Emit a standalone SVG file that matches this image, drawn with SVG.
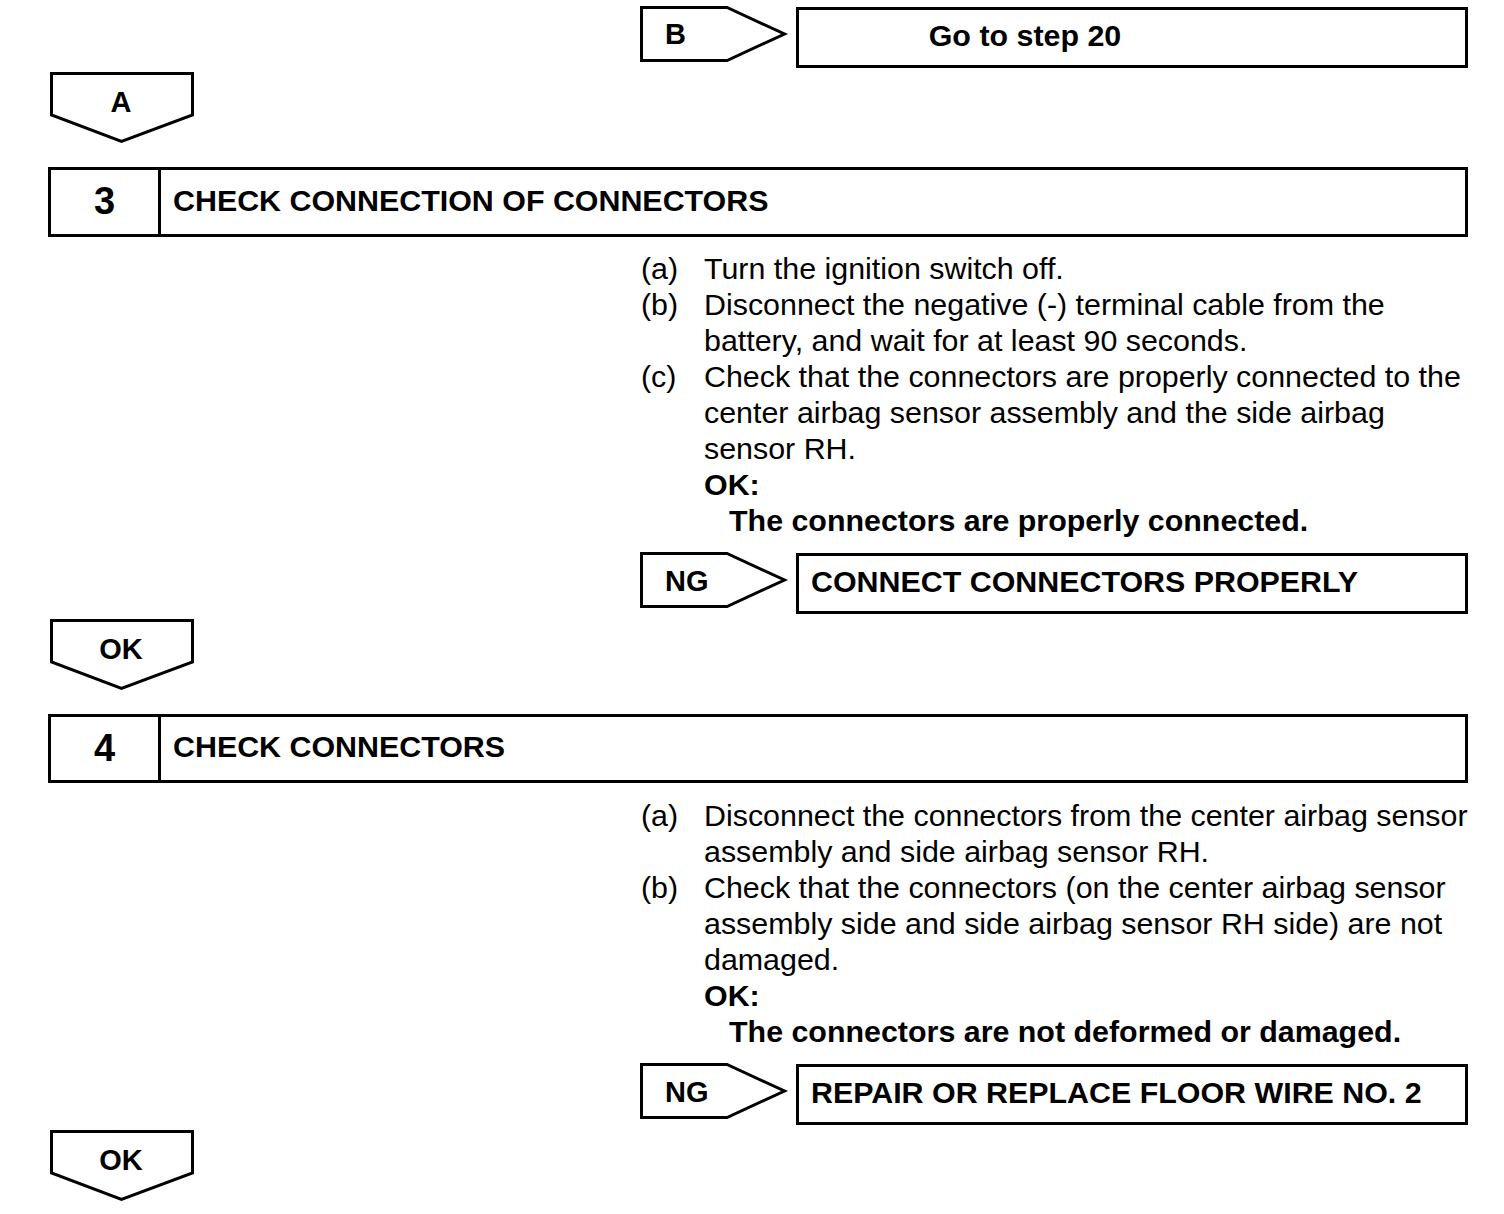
<svg xmlns="http://www.w3.org/2000/svg" width="1504" height="1214" viewBox="0 0 1504 1214">
<style>
.s{fill:#fff;stroke:#000;stroke-width:3}
.b{font-family:"Liberation Sans",Arial,sans-serif;font-weight:bold;font-size:30.4px;fill:#000}
.t{font-family:"Liberation Sans",Arial,sans-serif;font-size:30.4px;fill:#000}
.n{font-family:"Liberation Sans",Arial,sans-serif;font-weight:bold;font-size:38px;fill:#000}
.g{font-family:"Liberation Sans",Arial,sans-serif;font-weight:bold;font-size:29px;fill:#000}
</style>
<rect width="1504" height="1214" fill="#fff"/>
<g id="connectors"></g>
<g id="tagB"><path class="s" d="M641.5 7.5H727L784.5 34L727 60.5H641.5Z"/><text class="g" x="665" y="44">B</text></g>
<g id="goto20"><rect class="s" x="797.5" y="8.5" width="669" height="58"/><text class="b" x="1025" y="46" text-anchor="middle">Go to step 20</text></g>
<g id="tagA"><path class="s" d="M51.5 73.5H192.5V115L121.5 141.5L51.5 115Z"/><text class="g" x="121" y="112" text-anchor="middle">A</text></g>
<g id="step3"><rect class="s" x="49.5" y="168.5" width="1417" height="67"/><line class="s" x1="159.5" y1="168.5" x2="159.5" y2="235.5"/><text class="n" x="104.5" y="214" text-anchor="middle">3</text><text class="b" x="173" y="211">CHECK CONNECTION OF CONNECTORS</text></g>
<g id="step3text">
<text class="t" x="641" y="279">(a)</text><text class="t" x="704" y="279">Turn the ignition switch off.</text>
<text class="t" x="641" y="315">(b)</text><text class="t" x="704" y="315">Disconnect the negative (-) terminal cable from the</text>
<text class="t" x="704" y="351">battery, and wait for at least 90 seconds.</text>
<text class="t" x="641" y="387">(c)</text><text class="t" x="704" y="387">Check that the connectors are properly connected to the</text>
<text class="t" x="704" y="423">center airbag sensor assembly and the side airbag</text>
<text class="t" x="704" y="459">sensor RH.</text>
<text class="b" x="704" y="495">OK:</text>
<text class="b" x="729" y="531">The connectors are properly connected.</text>
</g>
<g id="ng1"><path class="s" d="M641.5 553.5H727L784.5 580L727 606.5H641.5Z"/><text class="g" x="665" y="591">NG</text></g>
<g id="fix1"><rect class="s" x="797.5" y="554.5" width="669" height="58"/><text class="b" x="811" y="592">CONNECT CONNECTORS PROPERLY</text></g>
<g id="ok1"><path class="s" d="M51.5 620.5H192.5V662L121.5 688.5L51.5 662Z"/><text class="g" x="121" y="659" text-anchor="middle">OK</text></g>
<g id="step4"><rect class="s" x="49.5" y="715.5" width="1417" height="66"/><line class="s" x1="159.5" y1="715.5" x2="159.5" y2="781.5"/><text class="n" x="104.5" y="761" text-anchor="middle">4</text><text class="b" x="173" y="757">CHECK CONNECTORS</text></g>
<g id="step4text">
<text class="t" x="641" y="826">(a)</text><text class="t" x="704" y="826">Disconnect the connectors from the center airbag sensor</text>
<text class="t" x="704" y="862">assembly and side airbag sensor RH.</text>
<text class="t" x="641" y="898">(b)</text><text class="t" x="704" y="898">Check that the connectors (on the center airbag sensor</text>
<text class="t" x="704" y="934">assembly side and side airbag sensor RH side) are not</text>
<text class="t" x="704" y="970">damaged.</text>
<text class="b" x="704" y="1006">OK:</text>
<text class="b" x="729" y="1042">The connectors are not deformed or damaged.</text>
</g>
<g id="ng2"><path class="s" d="M641.5 1064.5H727L784.5 1091L727 1117.5H641.5Z"/><text class="g" x="665" y="1102">NG</text></g>
<g id="fix2"><rect class="s" x="797.5" y="1065.5" width="669" height="58"/><text class="b" x="811" y="1103">REPAIR OR REPLACE FLOOR WIRE NO. 2</text></g>
<g id="ok2"><path class="s" d="M51.5 1131.5H192.5V1173L121.5 1199.5L51.5 1173Z"/><text class="g" x="121" y="1170" text-anchor="middle">OK</text></g>
</svg>
